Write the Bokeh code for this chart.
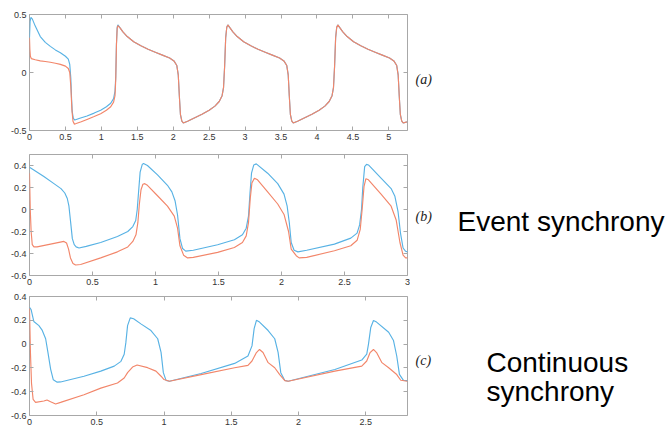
from bokeh.plotting import figure
from bokeh.layouts import column, row
from bokeh.models import Label, FixedTicker, LinearAxis, Range1d
from bokeh.embed import file_html
from bokeh.resources import INLINE

# ---------------- data: panel (a) ----------------
ta_blue = [0.0, 0.008, 0.02, 0.04, 0.08, 0.15, 0.22, 0.29, 0.36, 0.43, 0.50, 0.54, 0.56, 0.575, 0.585,
           0.595, 0.61, 0.63, 0.70, 0.80, 0.90, 0.99, 1.07, 1.13, 1.17, 1.19, 1.20, 1.21, 1.22, 1.23,
           1.26, 1.30, 1.36, 1.45, 1.55, 1.65, 1.75, 1.85, 1.95, 2.01, 2.05, 2.07, 2.085, 2.10, 2.12,
           2.14, 2.20, 2.30, 2.40, 2.50, 2.58, 2.64, 2.68, 2.70, 2.715, 2.73, 2.745, 2.76,
           2.79, 2.83, 2.89, 2.98, 3.08, 3.18, 3.28, 3.38, 3.48, 3.54, 3.58, 3.60, 3.615, 3.63, 3.65,
           3.67, 3.73, 3.83, 3.93, 4.03, 4.11, 4.17, 4.21, 4.23, 4.245, 4.26, 4.275, 4.29,
           4.32, 4.36, 4.42, 4.51, 4.61, 4.71, 4.81, 4.91, 5.01, 5.07, 5.11, 5.13, 5.145, 5.16, 5.18,
           5.20, 5.23, 5.26]
va_blue = [0.30, 0.44, 0.475, 0.46, 0.40, 0.31, 0.26, 0.225, 0.195, 0.17, 0.14, 0.115, 0.07, -0.05, -0.22,
           -0.34, -0.395, -0.41, -0.395, -0.375, -0.35, -0.325, -0.295, -0.265, -0.225, -0.16, -0.04, 0.25, 0.39, 0.41,
           0.385, 0.35, 0.31, 0.265, 0.23, 0.20, 0.175, 0.15, 0.125, 0.10, 0.06, -0.02, -0.2, -0.36, -0.42,
           -0.435, -0.42, -0.39, -0.36, -0.325, -0.29, -0.25, -0.2, -0.13, 0.05, 0.3, 0.39, 0.41,
           0.385, 0.35, 0.31, 0.265, 0.23, 0.20, 0.175, 0.15, 0.125, 0.10, 0.06, -0.02, -0.2, -0.36, -0.42,
           -0.435, -0.42, -0.39, -0.36, -0.325, -0.29, -0.25, -0.2, -0.13, 0.05, 0.3, 0.39, 0.41,
           0.385, 0.35, 0.31, 0.265, 0.23, 0.20, 0.175, 0.15, 0.125, 0.10, 0.06, -0.02, -0.2, -0.36, -0.42,
           -0.435, -0.43, -0.425]
ta_orange = [0.0, 0.005, 0.012, 0.025, 0.08, 0.15, 0.22, 0.29, 0.36, 0.43, 0.50, 0.54, 0.56, 0.575, 0.59,
             0.605, 0.625, 0.65, 0.72, 0.80, 0.90, 0.99, 1.07, 1.13, 1.17, 1.19, 1.20, 1.21, 1.22, 1.23,
             1.26, 1.30, 1.36, 1.45, 1.55, 1.65, 1.75, 1.85, 1.95, 2.01, 2.05, 2.07, 2.085, 2.10, 2.12,
             2.14, 2.20, 2.30, 2.40, 2.50, 2.58, 2.64, 2.68, 2.70, 2.715, 2.73, 2.745, 2.76,
             2.79, 2.83, 2.89, 2.98, 3.08, 3.18, 3.28, 3.38, 3.48, 3.54, 3.58, 3.60, 3.615, 3.63, 3.65,
             3.67, 3.73, 3.83, 3.93, 4.03, 4.11, 4.17, 4.21, 4.23, 4.245, 4.26, 4.275, 4.29,
             4.32, 4.36, 4.42, 4.51, 4.61, 4.71, 4.81, 4.91, 5.01, 5.07, 5.11, 5.13, 5.145, 5.16, 5.18,
             5.20, 5.23, 5.26]
va_orange = [0.30, 0.20, 0.14, 0.12, 0.11, 0.10, 0.095, 0.088, 0.08, 0.07, 0.055, 0.035, 0.0, -0.12, -0.32,
             -0.42, -0.445, -0.44, -0.425, -0.405, -0.38, -0.355, -0.325, -0.295, -0.255, -0.2, -0.06, 0.24, 0.38, 0.405,
             0.385, 0.35, 0.31, 0.265, 0.23, 0.20, 0.175, 0.15, 0.125, 0.10, 0.06, -0.02, -0.2, -0.36, -0.42,
             -0.435, -0.42, -0.39, -0.36, -0.325, -0.29, -0.25, -0.2, -0.13, 0.05, 0.3, 0.39, 0.41,
             0.385, 0.35, 0.31, 0.265, 0.23, 0.20, 0.175, 0.15, 0.125, 0.10, 0.06, -0.02, -0.2, -0.36, -0.42,
             -0.435, -0.42, -0.39, -0.36, -0.325, -0.29, -0.25, -0.2, -0.13, 0.05, 0.3, 0.39, 0.41,
             0.385, 0.35, 0.31, 0.265, 0.23, 0.20, 0.175, 0.15, 0.125, 0.10, 0.06, -0.02, -0.2, -0.36, -0.42,
             -0.435, -0.43, -0.425]

# ---------------- data: panel (b) ----------------
tb_blue = [0.0, 0.034, 0.114, 0.194, 0.25, 0.28, 0.30, 0.313, 0.326, 0.34, 0.355, 0.37, 0.393, 0.45,
           0.565, 0.698, 0.78, 0.82, 0.843, 0.855, 0.865, 0.878, 0.895, 0.905, 0.936, 1.016, 1.095,
           1.13, 1.155, 1.175, 1.194, 1.215, 1.24, 1.30, 1.493, 1.626, 1.69, 1.72, 1.738, 1.75, 1.762,
           1.78, 1.80, 1.89, 1.97, 2.02, 2.045, 2.062, 2.077, 2.10, 2.13, 2.20, 2.42, 2.55, 2.60, 2.62,
           2.635, 2.645, 2.66, 2.675, 2.69, 2.79, 2.87, 2.90, 2.925, 2.945, 2.965, 2.985, 3.0]
vb_blue = [0.385, 0.36, 0.30, 0.235, 0.19, 0.15, 0.10, 0.03, -0.11, -0.265, -0.32, -0.34, -0.35, -0.335,
           -0.30, -0.245, -0.2, -0.155, -0.1, 0.0, 0.15, 0.34, 0.41, 0.418, 0.40, 0.315, 0.22,
           0.16, 0.08, -0.05, -0.265, -0.355, -0.378, -0.37, -0.32, -0.275, -0.23, -0.17, -0.06, 0.15, 0.33,
           0.405, 0.415, 0.33, 0.235, 0.14, 0.03, -0.12, -0.30, -0.37, -0.385, -0.37, -0.315, -0.26, -0.215, -0.14,
           0.0, 0.2, 0.39, 0.41, 0.405, 0.285, 0.19, 0.12, -0.02, -0.22, -0.35, -0.38, -0.385]
tb_orange = [0.0, 0.006, 0.013, 0.022, 0.035, 0.06, 0.167, 0.273, 0.294, 0.31, 0.325, 0.345, 0.366, 0.406,
             0.565, 0.698, 0.78, 0.82, 0.845, 0.86, 0.872, 0.885, 0.9, 0.915, 0.936, 1.016, 1.095, 1.149,
             1.175, 1.194, 1.223, 1.255, 1.30, 1.493, 1.626, 1.69, 1.72, 1.738, 1.752, 1.765, 1.785, 1.81,
             1.89, 1.97, 2.02, 2.056, 2.077, 2.117, 2.14, 2.20, 2.42, 2.55, 2.60, 2.625, 2.64, 2.655, 2.67,
             2.69, 2.79, 2.87, 2.91, 2.94, 2.965, 2.985, 3.0]
vb_orange = [0.33, 0.0, -0.2, -0.32, -0.34, -0.34, -0.315, -0.29, -0.305, -0.36, -0.44, -0.49, -0.505, -0.50,
             -0.44, -0.385, -0.34, -0.29, -0.23, -0.12, 0.05, 0.18, 0.23, 0.235, 0.22, 0.125, 0.03, -0.06,
             -0.17, -0.33, -0.415, -0.44, -0.435, -0.39, -0.345, -0.30, -0.24, -0.12, 0.1, 0.24, 0.285, 0.27,
             0.16, 0.05, -0.045, -0.2, -0.36, -0.42, -0.44, -0.435, -0.375, -0.33, -0.28, -0.18, 0.0, 0.21, 0.28,
             0.27, 0.14, 0.03, -0.095, -0.3, -0.415, -0.44, -0.44]

# ---------------- data: panel (c) ----------------
tc_blue = [0.0, 0.012, 0.032, 0.07, 0.095, 0.12, 0.137, 0.157, 0.177, 0.206, 0.231, 0.405, 0.53, 0.63,
           0.68, 0.704, 0.716, 0.729, 0.749, 0.774, 0.828, 0.903, 0.953, 0.978, 0.995, 1.015, 1.04,
           1.276, 1.525, 1.624, 1.654, 1.67, 1.687, 1.71, 1.774, 1.823, 1.848, 1.868, 1.898, 1.923,
           2.27, 2.47, 2.507, 2.52, 2.537, 2.557, 2.58, 2.67, 2.706, 2.73, 2.75, 2.78, 2.81]
vc_blue = [0.31, 0.29, 0.19, 0.155, 0.115, 0.045, -0.07, -0.21, -0.30, -0.32, -0.318, -0.27, -0.227, -0.185,
           -0.145, -0.085, 0.01, 0.155, 0.22, 0.213, 0.17, 0.114, 0.045, -0.07, -0.24, -0.305, -0.312,
           -0.247, -0.162, -0.10, -0.015, 0.13, 0.2, 0.185, 0.114, 0.045, -0.07, -0.24, -0.305, -0.312,
           -0.213, -0.134, -0.085, 0.0, 0.14, 0.198, 0.185, 0.1, 0.03, -0.1, -0.255, -0.305, -0.307]
tc_orange = [0.0, 0.007, 0.015, 0.027, 0.045, 0.107, 0.13, 0.157, 0.194, 0.231, 0.405, 0.53, 0.654, 0.704,
             0.729, 0.766, 0.80, 0.878, 0.94, 0.978, 1.0, 1.04, 1.276, 1.525, 1.624, 1.654, 1.687, 1.71,
             1.736, 1.774, 1.823, 1.86, 1.898, 1.923, 2.27, 2.47, 2.507, 2.532, 2.557, 2.58, 2.62, 2.67,
             2.73, 2.76, 2.81]
vc_orange = [0.30, -0.07, -0.33, -0.465, -0.49, -0.478, -0.47, -0.485, -0.503, -0.49, -0.426, -0.37, -0.327, -0.285,
             -0.24, -0.193, -0.176, -0.198, -0.227, -0.27, -0.298, -0.312, -0.256, -0.199, -0.179, -0.142, -0.071, -0.045,
             -0.071, -0.156, -0.199, -0.256, -0.307, -0.312, -0.227, -0.185, -0.142, -0.071, -0.045, -0.071, -0.156, -0.199,
             -0.256, -0.304, -0.3125]

# ---------------- ticks ----------------
xticks_a = [0, 0.5, 1, 1.5, 2, 2.5, 3, 3.5, 4, 4.5, 5]
xlabels_a = ["0", "0.5", "1", "1.5", "2", "2.5", "3", "3.5", "4", "4.5", "5"]
yticks_a = [-0.5, 0, 0.5]
ylabels_a = ["-0.5", "0", "0.5"]
xticks_b = [0, 0.5, 1, 1.5, 2, 2.5, 3]
xlabels_b = ["0", "0.5", "1", "1.5", "2", "2.5", "3"]
yticks_bc = [-0.6, -0.4, -0.2, 0, 0.2, 0.4]
ylabels_bc = ["-0.6", "-0.4", "-0.2", "0", "0.2", "0.4"]
xticks_c = [0, 0.5, 1, 1.5, 2, 2.5]
xlabels_c = ["0", "0.5", "1", "1.5", "2", "2.5"]

BLUE = "#58b2e4"
ORANGE = "#f2866a"
FRAME = "#a8a8a8"
TICKTXT = "#333333"
PANEL_W = 410
LW = 1.15


def panel(height, xr, yr, xt, xl, yt, yl, btop, bbot):
    p = figure(width=PANEL_W, height=height, x_range=Range1d(*xr), y_range=Range1d(*yr),
               output_backend="svg", toolbar_location=None,
               min_border_left=29, min_border_right=3, min_border_top=btop, min_border_bottom=bbot,
               background_fill_color="white", border_fill_color="white")
    p.grid.visible = False
    p.outline_line_color = FRAME
    p.outline_line_width = 1
    for ax, ticks, labels in ((p.xaxis[0], xt, xl), (p.yaxis[0], yt, yl)):
        ax.ticker = FixedTicker(ticks=ticks)
        ax.major_label_overrides = dict(zip(ticks, labels))
        ax.major_tick_in = 4
        ax.major_tick_out = 0
        ax.minor_tick_line_color = None
        ax.axis_line_color = None
        ax.major_tick_line_color = FRAME
        ax.major_label_text_font = "Liberation Sans"
        ax.major_label_text_font_size = "9px"
        ax.major_label_text_color = TICKTXT
        ax.major_label_standoff = 3
    for loc, ticks in (("above", xt), ("right", yt)):
        ax = LinearAxis(ticker=FixedTicker(ticks=ticks), major_label_text_font_size="1px",
                        major_label_text_color=None, major_label_text_alpha=0,
                        major_label_standoff=0, major_tick_in=4, major_tick_out=0,
                        minor_tick_line_color=None, axis_line_color=None,
                        major_tick_line_color=FRAME)
        p.add_layout(ax, loc)
    return p


pa = panel(146, (0, 5.26), (-0.5, 0.5), xticks_a, xlabels_a, yticks_a, ylabels_a, 14, 16)
pa.line(ta_blue, va_blue, line_color=BLUE, line_width=LW)
pa.line(ta_orange, va_orange, line_color=ORANGE, line_width=LW)

pb = panel(143, (0, 3), (-0.6, 0.5), xticks_b, xlabels_b, yticks_bc, ylabels_bc, 8, 14)
pb.line(tb_blue, vb_blue, line_color=BLUE, line_width=LW)
pb.line(tb_orange, vb_orange, line_color=ORANGE, line_width=LW)

pc = panel(140, (0, 2.81), (-0.6, 0.4), xticks_c, xlabels_c, yticks_bc, ylabels_bc, 7, 14)
pc.line(tc_blue, vc_blue, line_color=BLUE, line_width=LW)
pc.line(tc_orange, vc_orange, line_color=ORANGE, line_width=LW)

# right-hand text column (coordinates in pixels, y downward)
RW = 672 - PANEL_W
pr = figure(width=RW, height=429, x_range=Range1d(0, RW), y_range=Range1d(429, 0),
            x_axis_location=None, y_axis_location=None, min_border=0,
            output_backend="svg", toolbar_location=None, outline_line_color=None)
pr.grid.visible = False

serif = dict(text_font="Liberation Serif", text_font_style="italic", text_font_size="14px",
             text_baseline="middle", text_color="#222222")
sans = dict(text_font="Liberation Sans", text_font_size="28px", text_baseline="alphabetic",
            text_color="black")
pr.add_layout(Label(x=5, y=79, text="(a)", **serif))
pr.add_layout(Label(x=5, y=216, text="(b)", **serif))
pr.add_layout(Label(x=5, y=360, text="(c)", **serif))
pr.add_layout(Label(x=47, y=221, text="Event synchrony", **sans))
pr.add_layout(Label(x=76, y=362, text="Continuous", **sans))
pr.add_layout(Label(x=76, y=391, text="synchrony", **sans))

layout = row(column(pa, pb, pc, spacing=0), pr, spacing=0)
open("out.html", "w").write(file_html(layout, INLINE))
